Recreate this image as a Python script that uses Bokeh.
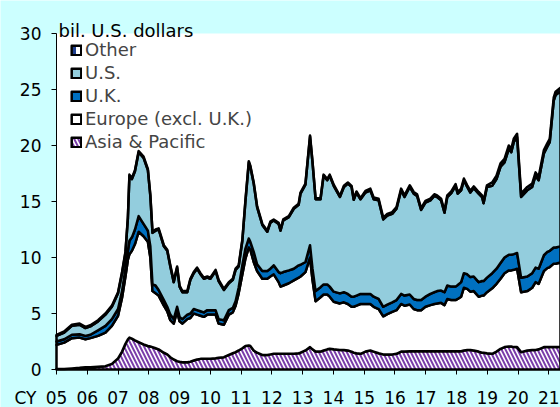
import numpy as np
from bokeh.plotting import figure
from bokeh.models import (Range1d, FixedTicker, Label, Legend, LegendItem,
                          LinearAxis, BoxAnnotation)
from bokeh.embed import file_html
from bokeh.resources import INLINE

# ---- data (bil. U.S. dollars) ----
dates = [2005.00, 2005.25, 2005.50, 2005.75, 2005.94, 2006.10, 2006.35, 2006.59, 2006.80, 2007.00,
         2007.13, 2007.24, 2007.32, 2007.37, 2007.45, 2007.55, 2007.67, 2007.83, 2007.97, 2008.05,
         2008.12, 2008.22, 2008.32, 2008.49, 2008.60, 2008.70, 2008.81, 2008.92, 2009.00, 2009.09,
         2009.25, 2009.35, 2009.46, 2009.57, 2009.68, 2009.79, 2009.90, 2010.00, 2010.17, 2010.27,
         2010.44, 2010.60, 2010.73, 2010.82, 2010.92, 2011.04, 2011.14, 2011.25, 2011.30, 2011.41,
         2011.52, 2011.69, 2011.85, 2011.95, 2012.06, 2012.22, 2012.28, 2012.37, 2012.55, 2012.71,
         2012.87, 2012.93, 2013.09, 2013.24, 2013.32, 2013.42, 2013.58, 2013.68, 2013.80, 2013.88,
         2014.01, 2014.21, 2014.34, 2014.47, 2014.59, 2014.66, 2014.75, 2014.88, 2015.04, 2015.20,
         2015.31, 2015.47, 2015.62, 2015.75, 2015.91, 2016.05, 2016.20, 2016.31, 2016.48, 2016.61,
         2016.72, 2016.85, 2016.99, 2017.15, 2017.28, 2017.37, 2017.50, 2017.61, 2017.70, 2017.83,
         2017.97, 2018.04, 2018.15, 2018.24, 2018.35, 2018.45, 2018.56, 2018.72, 2018.83, 2018.88,
         2018.99, 2019.16, 2019.30, 2019.43, 2019.56, 2019.70, 2019.78, 2019.86, 2019.97, 2020.10,
         2020.30, 2020.46, 2020.57, 2020.67, 2020.84, 2020.95, 2021.03, 2021.16, 2021.22, 2021.38]

asia = [0.05, 0.05, 0.10, 0.15, 0.20, 0.20, 0.25, 0.30, 0.50, 1.00,
        1.60, 2.30, 2.70, 2.85, 2.75, 2.60, 2.45, 2.25, 2.10, 2.05,
        2.00, 1.90, 1.80, 1.50, 1.35, 1.10, 0.90, 0.75, 0.70, 0.65,
        0.65, 0.70, 0.80, 0.90, 0.95, 0.95, 0.95, 0.95, 1.00, 1.05,
        1.10, 1.30, 1.45, 1.55, 1.70, 1.90, 2.10, 2.15, 2.10, 1.70,
        1.50, 1.30, 1.30, 1.35, 1.40, 1.40, 1.40, 1.40, 1.40, 1.40,
        1.45, 1.50, 1.70, 2.00, 1.80, 1.60, 1.60, 1.70, 1.80, 1.85,
        1.80, 1.75, 1.75, 1.70, 1.60, 1.50, 1.45, 1.40, 1.60, 1.70,
        1.60, 1.45, 1.35, 1.35, 1.35, 1.40, 1.60, 1.60, 1.63, 1.63,
        1.63, 1.63, 1.63, 1.63, 1.63, 1.63, 1.63, 1.63, 1.63, 1.63,
        1.63, 1.63, 1.63, 1.70, 1.75, 1.75, 1.70, 1.60, 1.50, 1.50,
        1.45, 1.40, 1.60, 1.85, 2.00, 2.05, 2.05, 2.00, 2.00, 1.55,
        1.70, 1.75, 1.75, 1.80, 2.00, 2.00, 2.00, 2.00, 2.00, 2.00]

europe = [2.15, 2.35, 2.70, 2.70, 2.50, 2.60, 2.75, 3.00, 3.40, 3.80,
          4.80, 6.00, 7.10, 7.45, 7.85, 8.60, 9.85, 9.65, 9.30, 7.95,
          5.00, 4.90, 4.80, 4.20, 3.85, 3.30, 3.20, 4.45, 3.60, 3.45,
          3.85, 3.90, 4.20, 4.00, 3.85, 3.75, 3.95, 3.95, 3.90, 3.05,
          2.90, 3.60, 3.65, 4.15, 5.10, 6.60, 7.80, 8.75, 8.60, 7.90,
          7.30, 6.80, 6.80, 6.95, 7.10, 6.40, 6.00, 6.10, 6.30, 6.55,
          6.75, 6.80, 7.00, 8.00, 6.20, 4.50, 4.85, 5.00, 4.90, 4.65,
          4.25, 4.15, 4.25, 4.15, 4.00, 4.10, 4.25, 4.45, 4.25, 4.15,
          4.00, 3.95, 3.40, 3.60, 3.80, 3.90, 4.25, 4.10, 4.17, 3.77,
          3.67, 3.67, 3.97, 4.12, 4.22, 4.27, 4.32, 4.12, 4.67, 4.57,
          4.57, 4.67, 4.87, 5.60, 5.45, 5.20, 5.30, 4.90, 5.10, 5.10,
          5.45, 5.85, 6.05, 6.25, 6.60, 6.80, 6.80, 6.90, 7.00, 5.35,
          5.30, 5.55, 6.05, 5.85, 6.80, 7.05, 7.15, 7.45, 7.45, 7.55]

uk = [0.30, 0.30, 0.30, 0.30, 0.30, 0.30, 0.50, 0.60, 0.60, 0.60,
      0.60, 0.70, 0.80, 1.20, 1.20, 1.30, 1.40, 1.10, 1.00, 1.00,
      0.60, 0.70, 0.50, 0.50, 0.40, 0.50, 0.40, 0.40, 0.40, 0.40,
      0.40, 0.40, 0.40, 0.40, 0.40, 0.40, 0.40, 0.40, 0.40, 0.40,
      0.40, 0.40, 0.40, 0.40, 0.50, 0.80, 0.90, 0.80, 0.70, 0.90,
      0.60, 0.70, 0.70, 0.70, 0.80, 0.90, 1.20, 1.20, 1.15, 1.05,
      1.10, 1.05, 0.90, 1.10, 1.00, 0.90, 0.90, 0.90, 0.90, 0.90,
      0.90, 0.90, 0.90, 0.90, 0.90, 0.90, 0.90, 0.90, 0.90, 0.90,
      0.90, 0.90, 0.85, 0.85, 0.85, 0.90, 0.90, 0.90, 0.90, 0.90,
      0.90, 0.90, 0.90, 1.00, 1.05, 1.10, 1.10, 1.15, 1.20, 1.20,
      1.20, 1.25, 1.30, 1.30, 1.30, 1.30, 1.30, 1.30, 1.30, 1.30,
      1.30, 1.35, 1.35, 1.40, 1.40, 1.40, 1.40, 1.40, 1.40, 1.30,
      1.30, 1.30, 1.30, 1.35, 1.40, 1.45, 1.45, 1.45, 1.45, 1.45]

us = [0.50, 0.60, 0.80, 0.85, 0.70, 0.75, 0.80, 1.00, 1.10, 1.40,
      1.60, 1.40, 2.90, 5.80, 5.20, 5.20, 5.70, 5.90, 5.40, 4.50,
      4.60, 4.90, 5.40, 4.80, 5.00, 4.30, 3.30, 3.50, 2.70, 2.40,
      2.00, 3.00, 3.20, 3.70, 3.30, 3.00, 2.90, 2.80, 3.50, 3.40,
      2.70, 2.40, 2.50, 2.80, 1.90, 2.20, 4.20, 6.80, 6.70, 6.10,
      5.10, 4.10, 3.50, 4.10, 4.00, 4.30, 3.80, 4.60, 4.75, 5.35,
      5.40, 6.35, 6.90, 9.70, 9.50, 8.20, 7.85, 9.70, 9.30, 9.90,
      9.45, 8.60, 9.40, 9.85, 9.80, 8.65, 9.20, 8.45, 9.05, 9.25,
      8.70, 8.80, 7.80, 7.95, 7.90, 8.15, 9.25, 8.80, 9.60, 9.40,
      9.30, 8.05, 8.40, 8.35, 8.60, 8.40, 8.05, 7.10, 7.90, 8.35,
      9.00, 8.15, 8.20, 8.30, 7.80, 7.55, 7.90, 7.90, 7.50, 6.95,
      8.10, 7.80, 8.00, 8.60, 8.50, 9.45, 9.15, 10.00, 10.35, 7.20,
      7.70, 7.70, 8.20, 7.90, 9.10, 9.40, 9.70, 13.10, 13.60, 13.85]

other = [0.10] * 78 + [0.15] * 33 + [0.30] * 19

series_names = ["Asia & Pacific", "Europe (excl. U.K.)", "U.K.", "U.S.", "Other"]
series_values = [asia, europe, uk, us, other]

year_ticks = list(range(2005, 2022))
year_labels = ["05", "06", "07", "08", "09", "10", "11", "12", "13",
               "14", "15", "16", "17", "18", "19", "20", "21"]
value_ticks = [0, 5, 10, 15, 20, 25, 30]
y_max = 30

# ---- layout geometry (pixels) ----
W, H = 560, 407
PLOT_L, PLOT_T, PLOT_B = 56, 33, 369          # plot-area edges in the picture
px_year = (W - PLOT_L) / (dates[-1] - dates[0])
px_unit = (PLOT_B - PLOT_T) / y_max

FONT = "DejaVu Sans"
styles = {
    "Asia & Pacific": dict(fill_color="white", hatch_pattern="\\", hatch_color="#7A3DAA",
                           hatch_weight=2.0, hatch_scale=8),
    "Europe (excl. U.K.)": dict(fill_color="white"),
    "U.K.": dict(fill_color="#0070C0"),
    "U.S.": dict(fill_color="#93CDDD"),
    "Other": dict(fill_color="white", hatch_pattern="|", hatch_color="#1F3F8F",
                  hatch_weight=3, hatch_scale=7),
}

x_start = dates[0] - PLOT_L / px_year
y_start = -(H - PLOT_B) / px_unit
y_end = PLOT_B / px_unit

p = figure(width=W, height=H, output_backend="svg", toolbar_location=None,
           x_range=Range1d(x_start, dates[-1]), y_range=Range1d(y_start, y_end),
           min_border_left=0, min_border_right=0, min_border_top=0, min_border_bottom=0)
p.title.visible = False
p.border_fill_color = "#CCFFFF"
p.background_fill_color = "#CCFFFF"
p.outline_line_color = None
p.grid.visible = False

# white plot area
p.add_layout(BoxAnnotation(left=dates[0], right=dates[-1], bottom=0, top=y_max,
                           fill_color="white", fill_alpha=1, line_color=None,
                           level="underlay"))

x = np.array(dates)
base = np.zeros(len(dates))
renderers = {}
for name, vals in zip(series_names, series_values):
    top = base + np.array(vals)
    xs = list(x) + list(x[::-1])
    ys = list(top) + list(base[::-1])
    renderers[name] = p.patch(xs, ys, line_color="black", line_width=2.5,
                              line_join="round", **styles[name])
    base = top

# axes, drawn at the plot-area edges
xa, ya = p.xaxis[0], p.yaxis[0]
xa.fixed_location = 0
ya.fixed_location = dates[0]
xa.bounds = (dates[0], dates[-1])
ya.bounds = (0, y_max)
xa.ticker = FixedTicker(ticks=year_ticks)
xa.major_label_overrides = {yr: lab for yr, lab in zip(year_ticks, year_labels)}
ya.ticker = FixedTicker(ticks=value_ticks)

cy_pos = dates[0] - 31 / px_year
cy_axis = LinearAxis(fixed_location=0, ticker=FixedTicker(ticks=[cy_pos]),
                     major_label_overrides={cy_pos: "CY"})
p.add_layout(cy_axis, "below")

for ax in (xa, ya, cy_axis):
    ax.axis_line_color = "black"
    ax.axis_line_width = 1
    ax.major_tick_line_color = "black"
    ax.major_tick_out = 5
    ax.major_tick_in = 0
    ax.minor_tick_line_color = None
    ax.major_label_text_font = FONT
    ax.major_label_text_font_size = "17px"
    ax.major_label_text_color = "black"
cy_axis.axis_line_color = None
cy_axis.major_tick_line_color = None
xa.major_label_standoff = 16
cy_axis.major_label_standoff = 13
ya.major_label_standoff = 10

# legend
order = ["Other", "U.S.", "U.K.", "Europe (excl. U.K.)", "Asia & Pacific"]
legend = Legend(items=[LegendItem(label=n, renderers=[renderers[n]]) for n in order],
                location=(PLOT_L + 14, H - 152), margin=0, padding=2, spacing=2,
                glyph_width=12, glyph_height=12, label_height=21, label_standoff=3,
                label_text_font=FONT, label_text_font_size="18px",
                background_fill_alpha=0, border_line_color=None)
p.add_layout(legend)

# unit label above the plot area
p.add_layout(Label(x=dates[0] + 2 / px_year, y=y_max + 3 / px_unit,
                   text="bil. U.S. dollars", text_font=FONT, text_font_size="18px",
                   text_color="black", text_baseline="alphabetic", text_align="left"))

open("out.html", "w").write(file_html(p, INLINE))
